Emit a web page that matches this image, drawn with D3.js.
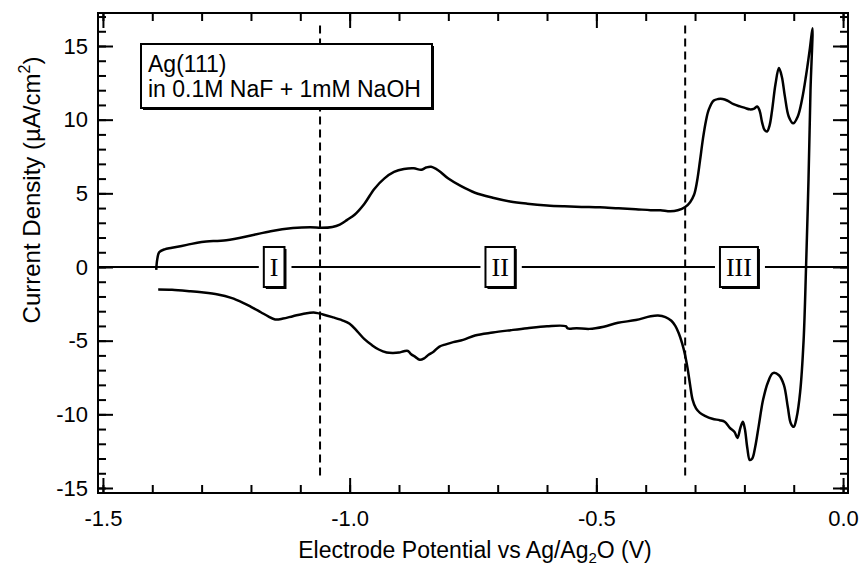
<!DOCTYPE html>
<html>
<head>
<meta charset="utf-8">
<script src="https://cdn.jsdelivr.net/npm/d3@7"></script>
<style>
  body { margin: 0; background: #fff; }
  text { font-family: "Liberation Sans", Arial, sans-serif; fill: #000; }
</style>
</head>
<body>
<svg id="chart" width="861" height="570"></svg>
<script>
// cyclic voltammogram of Ag(111), potential in V vs Ag/Ag2O, current in uA/cm2
// anodic sweep (upper branch), from -1.39 V up to the turning point
const anodicV = [-1.392, -1.390, -1.386, -1.375, -1.36, -1.33, -1.30, -1.25, -1.20, -1.16, -1.115, -1.08, -1.057,
  -1.035, -1.02, -1.005, -0.99, -0.97, -0.95, -0.93, -0.91, -0.89, -0.87, -0.855, -0.845, -0.835, -0.82, -0.80,
  -0.775, -0.746, -0.71, -0.675, -0.64, -0.60, -0.565, -0.53, -0.493, -0.455, -0.42, -0.39, -0.37, -0.35, -0.335,
  -0.32, -0.31, -0.302, -0.296, -0.290, -0.284, -0.278, -0.272, -0.262, -0.253, -0.244, -0.235, -0.222, -0.209,
  -0.199, -0.189, -0.18, -0.174, -0.169, -0.164, -0.159, -0.154, -0.149, -0.144, -0.137, -0.130, -0.124, -0.118,
  -0.11, -0.101, -0.092, -0.083, -0.075, -0.067, -0.062];
const anodicI = [-0.2, 0.5, 1.0, 1.2, 1.3, 1.5, 1.7, 1.82, 2.14, 2.43, 2.64, 2.7, 2.66,
  2.72, 2.88, 3.2, 3.55, 4.3, 5.3, 6.0, 6.45, 6.65, 6.7, 6.6, 6.75, 6.8, 6.55, 6.0,
  5.5, 5.04, 4.7, 4.45, 4.3, 4.18, 4.12, 4.08, 4.05, 3.98, 3.92, 3.86, 3.85, 3.78, 3.85,
  4.07, 4.4, 4.9, 5.8, 7.2, 8.7, 9.9, 10.7, 11.3, 11.4, 11.4, 11.3, 11.05, 10.9,
  10.8, 10.7, 10.75, 10.9, 10.6, 9.8, 9.3, 9.2, 9.6, 10.6, 12.4, 13.5, 12.9, 11.6,
  10.2, 9.75, 10.2, 11.4, 13.0, 14.9, 16.2];

// cathodic sweep (lower branch), back from the turning point to -1.39 V
const cathodicV = [-0.066, -0.070, -0.075, -0.080, -0.087, -0.094, -0.100, -0.106, -0.112, -0.12, -0.13, -0.142,
  -0.152, -0.162, -0.171, -0.178, -0.184, -0.189, -0.194, -0.199, -0.203, -0.208, -0.214, -0.22, -0.23, -0.24,
  -0.25, -0.265, -0.28, -0.29, -0.298, -0.305, -0.31, -0.315, -0.32, -0.326, -0.333, -0.34, -0.348, -0.36, -0.375,
  -0.39, -0.42, -0.456, -0.485, -0.514, -0.54, -0.558, -0.562, -0.6, -0.64, -0.674, -0.71, -0.746, -0.77, -0.79,
  -0.805, -0.818, -0.83, -0.84, -0.849, -0.858, -0.867, -0.876, -0.882, -0.89, -0.90, -0.912, -0.925, -0.941,
  -0.955, -0.97, -0.985, -1.0, -1.015, -1.035, -1.054, -1.07, -1.09, -1.115, -1.135, -1.151, -1.165, -1.18, -1.2,
  -1.216, -1.24, -1.267, -1.30, -1.325, -1.36, -1.388];
const cathodicI = [12.0, 6.0, 0.0, -5.0, -8.5, -10.2, -10.85, -10.6, -9.5, -8.0, -7.35, -7.2,
  -7.8, -9.0, -10.8, -12.2, -13.0, -13.1, -12.3, -11.0, -10.5, -10.9, -11.6, -11.2, -10.9, -10.5,
  -10.4, -10.3, -10.1, -9.9, -9.6, -9.0, -8.0, -6.9, -6.0, -5.2, -4.5, -4.0, -3.65, -3.4, -3.3,
  -3.35, -3.6, -3.79, -4.05, -4.2, -4.15, -4.17, -4.02, -4.02, -4.15, -4.29, -4.45, -4.65, -4.95, -5.1,
  -5.25, -5.4, -5.75, -5.95, -6.2, -6.3, -6.1, -5.9, -5.7, -5.72, -5.8, -5.83, -5.8, -5.6,
  -5.3, -4.9, -4.35, -3.85, -3.62, -3.4, -3.22, -3.1, -3.15, -3.34, -3.5, -3.56, -3.35, -3.07, -2.7,
  -2.43, -2.1, -1.87, -1.72, -1.64, -1.55, -1.53];

const xTicks = [-1.5, -1.0, -0.5, 0.0];
const yTicks = [-15, -10, -5, 0, 5, 10, 15];
const regionBounds = [-1.06, -0.32];
const regionNames = ["I", "II", "III"];
const regionLabelV = [-1.153, -0.695, -0.211];
const legendLines = ["Ag(111)", "in 0.1M NaF + 1mM NaOH"];

const svg = d3.select("#chart");

const x = d3.scaleLinear().domain([-1.51, 0.01]).range([98, 848]);
const y = d3.scaleLinear().domain([-15.34, 17.24]).range([493, 13]);

const plotLeft = 98, plotRight = 848, plotTop = 13, plotBottom = 493;
const majorLen = 15, minorLen = 8;

const xMinor = d3.range(-15, 1).map(d => d / 10);
const yMinor = d3.range(-15, 18);

function styleAxis(g) {
  g.select(".domain").remove();
  g.selectAll(".tick line").attr("stroke", "#000").attr("stroke-width", 2);
  g.selectAll(".tick text").attr("font-size", 22).attr("font-family", "Liberation Sans, Arial, sans-serif");
}

// minor ticks on all four sides (pointing inward)
svg.append("g").attr("transform", `translate(0,${plotBottom})`)
  .call(d3.axisBottom(x).tickValues(xMinor).tickSize(-minorLen).tickFormat(""))
  .call(styleAxis);
svg.append("g").attr("transform", `translate(0,${plotTop})`)
  .call(d3.axisTop(x).tickValues(xMinor).tickSize(-minorLen).tickFormat(""))
  .call(styleAxis);
svg.append("g").attr("transform", `translate(${plotLeft},0)`)
  .call(d3.axisLeft(y).tickValues(yMinor).tickSize(-minorLen).tickFormat(""))
  .call(styleAxis);
svg.append("g").attr("transform", `translate(${plotRight},0)`)
  .call(d3.axisRight(y).tickValues(yMinor).tickSize(-minorLen).tickFormat(""))
  .call(styleAxis);

// major ticks
svg.append("g").attr("transform", `translate(0,${plotBottom})`)
  .call(d3.axisBottom(x).tickValues(xTicks).tickSize(-majorLen).tickPadding(17).tickFormat(d => d.toFixed(1)))
  .call(styleAxis);
svg.append("g").attr("transform", `translate(0,${plotTop})`)
  .call(d3.axisTop(x).tickValues(xTicks).tickSize(-majorLen).tickFormat(""))
  .call(styleAxis);
svg.append("g").attr("transform", `translate(${plotLeft},0)`)
  .call(d3.axisLeft(y).tickValues(yTicks).tickSize(-majorLen).tickPadding(10).tickFormat(d => String(d)))
  .call(styleAxis);
svg.append("g").attr("transform", `translate(${plotRight},0)`)
  .call(d3.axisRight(y).tickValues(yTicks).tickSize(-majorLen).tickFormat(""))
  .call(styleAxis);

// frame
svg.append("rect")
  .attr("x", plotLeft).attr("y", plotTop)
  .attr("width", plotRight - plotLeft).attr("height", plotBottom - plotTop)
  .attr("fill", "none").attr("stroke", "#000").attr("stroke-width", 2);

// zero line
svg.append("line")
  .attr("x1", plotLeft).attr("x2", plotRight)
  .attr("y1", y(0)).attr("y2", y(0))
  .attr("stroke", "#000").attr("stroke-width", 2);

// region boundaries
svg.selectAll(".bound")
  .data(regionBounds)
  .enter().append("line")
    .attr("x1", d => x(d)).attr("x2", d => x(d))
    .attr("y1", y(16.4)).attr("y2", y(-14.2))
    .attr("stroke", "#000").attr("stroke-width", 2)
    .attr("stroke-dasharray", "8,5");

// the voltammogram
const pts = anodicV.map((v, i) => [v, anodicI[i]])
  .concat(cathodicV.map((v, i) => [v, cathodicI[i]]));

const line = d3.line()
  .x(d => x(d[0]))
  .y(d => y(d[1]))
  .curve(d3.curveCatmullRom.alpha(0.5));

svg.append("path")
  .attr("d", line(pts))
  .attr("fill", "none")
  .attr("stroke", "#000")
  .attr("stroke-width", 2.5)
  .attr("stroke-linejoin", "round");

// region labels in boxes
regionNames.forEach(function(name, i) {
  const cx = x(regionLabelV[i]), cy = y(0);
  const g = svg.append("g");
  const t = g.append("text")
    .attr("x", cx).attr("y", cy + 9)
    .attr("text-anchor", "middle")
    .style("font-family", "Liberation Serif, Times New Roman, serif")
    .attr("font-size", 26)
    .text(name);
  const w = t.node().getComputedTextLength() + 12;
  const h = 40;
  g.insert("rect", "text")
    .attr("x", cx - w / 2 - 5).attr("y", cy - 2)
    .attr("width", w + 12).attr("height", 4)
    .attr("fill", "#fff");
  g.insert("rect", "text")
    .attr("x", cx - w / 2 + 2).attr("y", cy - h / 2 + 2)
    .attr("width", w).attr("height", h)
    .attr("fill", "#000");
  g.insert("rect", "text")
    .attr("x", cx - w / 2).attr("y", cy - h / 2)
    .attr("width", w).attr("height", h)
    .attr("fill", "#fff").attr("stroke", "#000").attr("stroke-width", 2);
});

// legend box
svg.append("rect")
  .attr("x", 143).attr("y", 46).attr("width", 291).attr("height", 64)
  .attr("fill", "#000");
svg.append("rect")
  .attr("x", 141).attr("y", 44).attr("width", 291).attr("height", 64)
  .attr("fill", "#fff").attr("stroke", "#000").attr("stroke-width", 2);
svg.selectAll(".legend")
  .data(legendLines)
  .enter().append("text")
    .attr("x", 148)
    .attr("y", (d, i) => 72 + i * 25)
    .attr("font-size", 23)
    .text(d => d);

// axis titles
const xt = svg.append("text")
  .attr("x", 475).attr("y", 558)
  .attr("text-anchor", "middle")
  .attr("font-size", 23);
xt.append("tspan").text("Electrode Potential vs Ag/Ag");
xt.append("tspan").attr("dy", 5).attr("font-size", 15).text("2");
xt.append("tspan").attr("dy", -5).text("O (V)");

const yt = svg.append("text")
  .attr("transform", "translate(40,190) rotate(-90)")
  .attr("text-anchor", "middle")
  .attr("font-size", 24);
yt.append("tspan").text("Current Density (\u00b5A/cm");
yt.append("tspan").attr("dy", -10).attr("font-size", 16).text("2");
yt.append("tspan").attr("dy", 10).text(")");
</script>
</body>
</html>
